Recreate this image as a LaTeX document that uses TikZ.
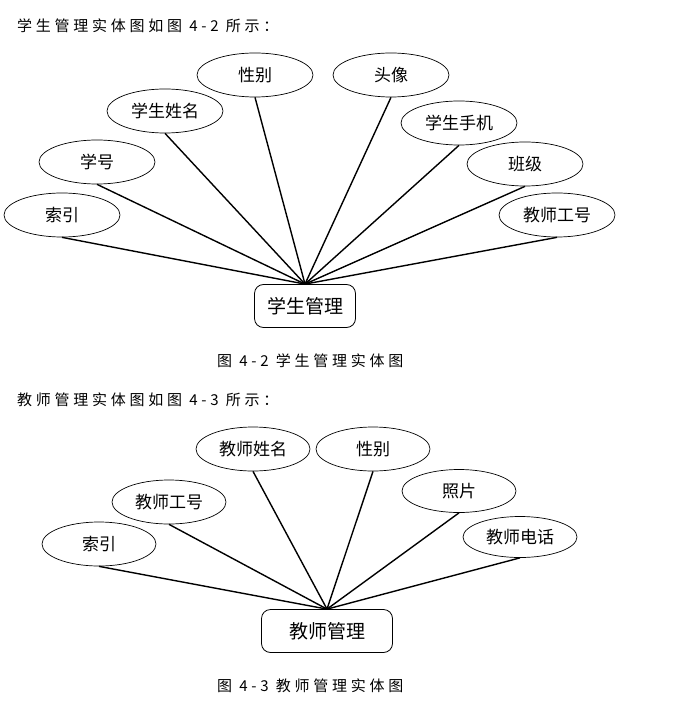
\documentclass[tikz,border=0pt]{standalone}
\usepackage{fontspec}
\setmainfont{Noto Sans CJK SC}
\newfontfamily\capfont[LetterSpace=25]{Noto Sans CJK SC}
\usetikzlibrary{shapes.geometric}
\begin{document}
\begin{tikzpicture}[x=1pt,y=-1pt,
  attr/.style={draw, ellipse, line width=0.7pt, minimum width=116pt, minimum height=44pt, inner sep=0pt, font=\fontsize{17}{17}\selectfont},
  entity/.style={draw, line width=0.8pt, rounded corners=9pt, minimum height=43pt, inner sep=0pt, font=\fontsize{19}{19}\selectfont},
  link/.style={line width=1.4pt},
  figtext/.style={anchor=west, inner sep=0pt, font=\capfont\fontsize{15}{15}\selectfont}]
\useasboundingbox (0,0) rectangle (673,708);
% student entity
\node[figtext] (title1) at (17,26) {学生管理实体图如图 4{-}2 所示：};
\node[entity, minimum width=101pt] (stu) at (305,306) {学生管理};
\node[attr] (s1) at (62,215) {索引};
\node[attr] (s2) at (97,162) {学号};
\node[attr] (s3) at (165,111) {学生姓名};
\node[attr] (s4) at (255,75) {性别};
\node[attr] (s5) at (391,75) {头像};
\node[attr] (s6) at (459,123) {学生手机};
\node[attr] (s7) at (525,164) {班级};
\node[attr] (s8) at (557,215) {教师工号};
\draw[link] (s1.south) -- (stu.north);
\draw[link] (s2.south) -- (stu.north);
\draw[link] (s3.south) -- (stu.north);
\draw[link] (s4.south) -- (stu.north);
\draw[link] (s5.south) -- (stu.north);
\draw[link] (s6.south) -- (stu.north);
\draw[link] (s7.south) -- (stu.north);
\draw[link] (s8.south) -- (stu.north);
\node[figtext] (cap1) at (217,361) {图 4{-}2 学生管理实体图};
% teacher entity
\node[figtext] (title2) at (17,400) {教师管理实体图如图 4{-}3 所示：};
\node[entity, minimum width=131pt] (tea) at (327,631) {教师管理};
\node[attr, minimum width=114pt] (t1) at (99,544) {索引};
\node[attr, minimum width=114pt] (t2) at (169,502) {教师工号};
\node[attr, minimum width=114pt] (t3) at (253,449) {教师姓名};
\node[attr, minimum width=114pt] (t4) at (373,449) {性别};
\node[attr, minimum width=114pt, minimum height=43pt] (t5) at (459,491) {照片};
\node[attr, minimum width=114pt, minimum height=41pt] (t6) at (520,537) {教师电话};
\draw[link] (t1.south) -- (tea.north);
\draw[link] (t2.south) -- (tea.north);
\draw[link] (t3.south) -- (tea.north);
\draw[link] (t4.south) -- (tea.north);
\draw[link] (t5.south) -- (tea.north);
\draw[link] (t6.south) -- (tea.north);
\node[figtext] (cap2) at (217,686) {图 4{-}3 教师管理实体图};
\end{tikzpicture}
\end{document}
